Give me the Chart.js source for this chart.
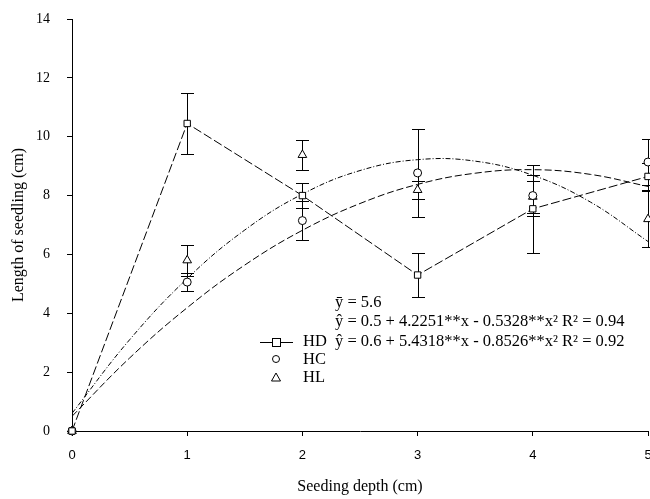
<!DOCTYPE html>
<html>
<head>
<meta charset="utf-8">
<script src="https://cdn.jsdelivr.net/npm/chart.js@4.4.0/dist/chart.umd.min.js"></script>
<style>
  html, body { margin: 0; padding: 0; background: #fff; }
</style>
</head>
<body>
<canvas id="chart" width="650" height="499"></canvas>
<script>
// seeding depth (cm) and mean seedling length (cm) per treatment
const depths = [0, 1, 2, 3, 4, 5];
const hdMeans = [0, 10.45, 8.0, 5.3, 7.55, 8.65];
const hdErr = [0, 1.05, 0.42, 0.75, 1.5, 0.47];
const hcMeans = [0, 5.06, 7.15, 8.77, 8.0, 9.14];
const hcErr = [0, 0.3, 0.65, 1.5, 0.7, 0.78];
const hlMeans = [0, 5.8, 9.38, 8.19, 7.96, 7.2];
const hlErr = [0, 0.52, 0.5, 0.3, 0.55, 0.95];

// fitted quadratic curves
const fitDepths = [0, 0.5, 1, 1.5, 2, 2.5, 3, 3.5, 4, 4.5, 5];
const hcFit = [0.5, 2.48, 4.19, 5.64, 6.82, 7.73, 8.38, 8.76, 8.88, 8.72, 8.31];
const hlFit = [0.6, 3.1, 5.18, 6.83, 8.05, 8.85, 9.22, 9.17, 8.69, 7.78, 6.44];

const seriesLabels = ['HD', 'HC', 'HL'];
const meanText = 'ȳ = 5.6';
const hcEquation = 'ŷ = 0.5 + 4.2251**x - 0.5328**x² R² = 0.94';
const hlEquation = 'ŷ = 0.6 + 5.4318**x - 0.8526**x² R² = 0.92';

const SERIF = "'Liberation Serif', 'Times New Roman', serif";
const SANS = "'Liberation Sans', Arial, sans-serif";

function toXY(xs, ys) {
  return xs.map((x, i) => ({ x, y: ys[i] }));
}

// vertical error bars with caps, drawn under the markers
const errorBars = {
  id: 'errorBars',
  beforeDatasetsDraw(chart) {
    const { ctx, scales: { x, y } } = chart;
    ctx.save();
    ctx.strokeStyle = '#000';
    ctx.lineWidth = 1;
    [[hdMeans, hdErr], [hcMeans, hcErr], [hlMeans, hlErr]].forEach(([means, errs]) => {
      depths.forEach((d, i) => {
        if (!errs[i]) return;
        const px = Math.round(x.getPixelForValue(d)) + 0.5;
        const top = Math.round(y.getPixelForValue(means[i] + errs[i])) + 0.5;
        const bot = Math.round(y.getPixelForValue(means[i] - errs[i])) + 0.5;
        ctx.beginPath();
        ctx.moveTo(px, top); ctx.lineTo(px, bot);
        ctx.moveTo(px - 6.5, top); ctx.lineTo(px + 6.5, top);
        ctx.moveTo(px - 6.5, bot); ctx.lineTo(px + 6.5, bot);
        ctx.stroke();
      });
    });
    ctx.restore();
  }
};

// legend block and regression text
const notes = {
  id: 'notes',
  afterDraw(chart) {
    const { ctx } = chart;
    ctx.save();
    ctx.strokeStyle = '#000';
    ctx.fillStyle = '#fff';
    ctx.lineWidth = 1;

    // HD: line with square
    ctx.beginPath();
    ctx.moveTo(260, 342.5); ctx.lineTo(293, 342.5);
    ctx.stroke();
    ctx.fillRect(272.5, 338.5, 8, 8);
    ctx.strokeRect(272.5, 338.5, 8, 8);
    // HC: circle
    ctx.beginPath();
    ctx.arc(276, 359, 3.5, 0, Math.PI * 2);
    ctx.fill(); ctx.stroke();
    // HL: triangle
    ctx.beginPath();
    ctx.moveTo(276, 373); ctx.lineTo(280.5, 381); ctx.lineTo(271.5, 381); ctx.closePath();
    ctx.fill(); ctx.stroke();

    ctx.fillStyle = '#000';
    ctx.font = '16.5px ' + SERIF;
    ctx.textBaseline = 'middle';
    ctx.textAlign = 'left';
    ctx.fillText(seriesLabels[0], 303, 342);
    ctx.fillText(seriesLabels[1], 303, 360);
    ctx.fillText(seriesLabels[2], 303, 378);
    ctx.fillText(meanText, 335, 303);
    ctx.fillText(hcEquation, 335, 322);
    ctx.fillText(hlEquation, 335, 342);
    ctx.restore();
  }
};

const markerStyle = {
  showLine: false,
  pointBackgroundColor: '#fff',
  pointBorderColor: '#000',
  pointBorderWidth: 1,
  pointHoverRadius: 0,
  clip: false
};

new Chart(document.getElementById('chart'), {
  type: 'scatter',
  data: {
    datasets: [
      {
        label: seriesLabels[0],
        data: toXY(depths, hdMeans),
        ...markerStyle,
        showLine: true,
        borderColor: '#000',
        borderWidth: 1,
        borderDash: [9, 3],
        pointStyle: 'rect',
        pointRadius: 4.5,
        order: 1
      },
      {
        label: seriesLabels[1],
        data: toXY(depths, hcMeans),
        ...markerStyle,
        pointStyle: 'circle',
        pointRadius: 4,
        order: 1
      },
      {
        label: seriesLabels[2],
        data: toXY(depths, hlMeans),
        ...markerStyle,
        pointStyle: 'triangle',
        pointRadius: 5,
        order: 1
      },
      {
        label: 'HC fit',
        data: toXY(fitDepths, hcFit),
        showLine: true,
        borderColor: '#000',
        borderWidth: 1,
        borderDash: [7, 3],
        tension: 0.4,
        pointRadius: 0,
        order: 3
      },
      {
        label: 'HL fit',
        data: toXY(fitDepths, hlFit),
        showLine: true,
        borderColor: '#000',
        borderWidth: 1,
        borderDash: [5, 2, 1, 2],
        tension: 0.4,
        pointRadius: 0,
        order: 3
      }
    ]
  },
  options: {
    responsive: false,
    animation: false,
    devicePixelRatio: 1,
    layout: { autoPadding: false, padding: { top: 19, right: 2, left: 0, bottom: 0 } },
    plugins: {
      legend: { display: false },
      tooltip: { enabled: false }
    },
    scales: {
      x: {
        type: 'linear',
        min: 0,
        max: 5,
        afterFit: (scale) => {
          scale.height = 68;
          scale.paddingLeft = 0;
          scale.paddingRight = 0;
        },
        grid: { drawOnChartArea: false, drawTicks: true, tickLength: 5, color: '#000' },
        border: { display: true, color: '#000', width: 1 },
        ticks: {
          stepSize: 1,
          padding: 12,
          color: '#000',
          font: { family: SANS, size: 13 }
        },
        title: {
          display: true,
          text: 'Seeding depth (cm)',
          color: '#000',
          font: { family: SERIF, size: 16 },
          padding: { top: 0, bottom: 3 }
        }
      },
      y: {
        min: 0,
        max: 14,
        afterFit: (scale) => {
          scale.width = 72;
          scale.paddingTop = 0;
          scale.paddingBottom = 0;
        },
        grid: { drawOnChartArea: false, drawTicks: true, tickLength: 5, color: '#000' },
        border: { display: true, color: '#000', width: 1 },
        ticks: {
          stepSize: 2,
          padding: 17,
          color: '#000',
          font: { family: SERIF, size: 14 }
        },
        title: {
          display: true,
          text: 'Length of seedling (cm)',
          color: '#000',
          font: { family: SERIF, size: 16 },
          padding: { top: 9, bottom: 0 }
        }
      }
    }
  },
  plugins: [errorBars, notes]
});
</script>
</body>
</html>
